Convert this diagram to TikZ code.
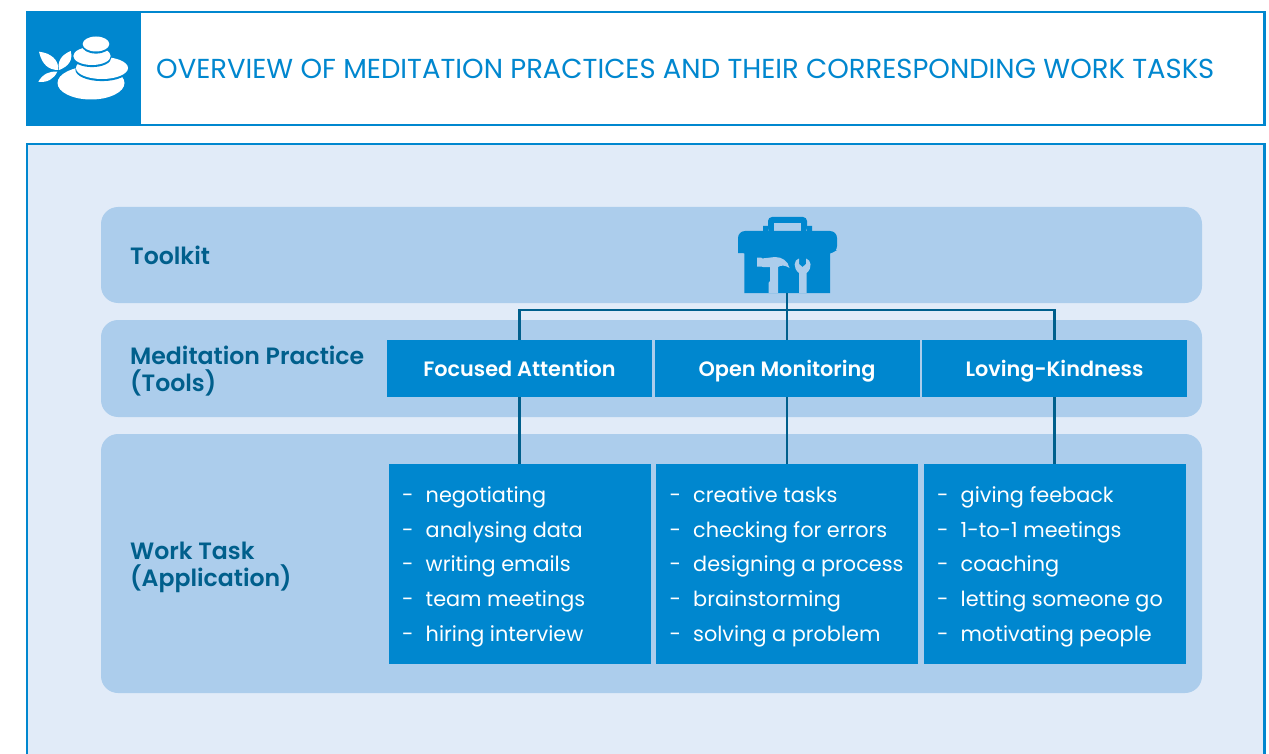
\documentclass[tikz,border=0pt]{standalone}
\usepackage{fontspec}
\setmainfont{Poppins}[BoldFont={Poppins SemiBold}]
\definecolor{mainblue}{HTML}{0087CF}
\definecolor{pale}{HTML}{E1EBF8}
\definecolor{band}{HTML}{ACCDEC}
\definecolor{dark}{HTML}{005F8C}
\tikzset{
  x=1pt,y=-1pt,
  bandbox/.style={fill=band,rounded corners=17pt},
  lab/.style={anchor=west,text=dark,font=\fontsize{23.6}{27}\selectfont\bfseries,align=left,inner sep=0pt},
  tool/.style={fill=mainblue,minimum width=265pt,minimum height=57pt,inner sep=0pt,text=white,text height=20pt,text depth=5pt,font=\fontsize{20.8}{26}\selectfont\bfseries},
  taskbox/.style={fill=mainblue,minimum width=262pt,minimum height=200pt,inner sep=0pt,text=white},
  tasktext/.style={text=white,anchor=base west,inner sep=0pt,font=\fontsize{20.8}{26}\selectfont},
  conn/.style={draw=dark,line width=2.4pt}
}
\newcommand{\stone}[4]{%
  \fill[mainblue] (#1,#2+1.8) ellipse [x radius=#3+0.6,y radius=#4+0.3];
  \fill[white] (#1,#2) ellipse [x radius=#3,y radius=#4];}
\newcommand{\tasklist}[6]{%
  \foreach \t/\yy in {#2/502,#3/537,#4/571,#5/606,#6/641}{
    \node[tasktext] at (#1+22.5,\yy) {-};
    \node[tasktext] at (#1+46,\yy) {\t};
  }}
\begin{document}
\begin{tikzpicture}
\useasboundingbox (0,0) rectangle (1269,754);
% header
\draw[mainblue,line width=2.4pt,fill=white] (27,12) rectangle (1264.5,125);
\fill[mainblue] (26,11) rectangle (141,126);
\node[anchor=base west,inner sep=0pt,text=mainblue,font=\fontsize{27.45}{30}\selectfont] (title) at (156,79) {OVERVIEW OF MEDITATION PRACTICES AND THEIR CORRESPONDING WORK TASKS};
% stones
\fill[white] (91,83) ellipse [x radius=33.5,y radius=16.5];
\stone{102}{68}{26}{11}
\stone{92}{56}{18.7}{9}
\stone{96}{44}{13.3}{7.5}
% leaves
\fill[white] (39,51.7) .. controls (51,53) and (59,60) .. (58.3,70) .. controls (49,70) and (42,65) .. (39,51.7) -- cycle;
\fill[white] (59.3,70) .. controls (57,62) and (61,55) .. (70.7,51) .. controls (73,60) and (69,66) .. (59.3,70) -- cycle;
\fill[white] (38.3,81.7) .. controls (43,74) and (49,71) .. (57.3,71.7) .. controls (54,79) and (47,83) .. (38.3,81.7) -- cycle;
% panel
\draw[mainblue,line width=2.4pt,fill=pale] (27,144) rectangle (1264.5,760);
% bands
\fill[bandbox] (101,207) rectangle (1202,303);
\fill[bandbox] (101,320) rectangle (1202,417);
\fill[bandbox] (101,434) rectangle (1202,693);
% labels
\node[lab] (l1) at (130,255.5) {Toolkit};
\node[lab] (l2) at (130,371) {Meditation Practice\\(Tools)};
\node[lab] (l3) at (130,567) {Work Task\\(Application)};
% tools
\node[tool] (fa) at (519.5,368.5) {Focused Attention};
\node[tool] (om) at (787,368.5) {Open Monitoring};
\node[tool] (lk) at (1054.5,368.5) {Loving-Kindness};
% task boxes
\node[taskbox] (t1) at (520,564) {};
\node[taskbox] (t2) at (787,564) {};
\node[taskbox] (t3) at (1055,564) {};
\tasklist{379.5}{negotiating}{analysing data}{writing emails}{team meetings}{hiring interview}
\tasklist{647}{creative tasks}{checking for errors}{designing a process}{brainstorming}{solving a problem}
\tasklist{914.5}{giving feeback}{1-to-1 meetings}{coaching}{letting someone go}{motivating people}
% toolbox icon
\node[inner sep=0pt,minimum width=99pt,minimum height=76pt] (kit) at (787.5,255) {};
\fill[mainblue,rounded corners=4pt] (768,232) -- (768,217) -- (807,217) -- (807,232) -- cycle;
\fill[band] (774,223) rectangle (801,231);
\fill[mainblue] (763,226) rectangle (768.5,232) (806.5,226) rectangle (812,232);
\fill[mainblue,rounded corners=7pt] (738,253) -- (738,231) -- (837,231) -- (837,253) [sharp corners] -- cycle;
\fill[mainblue] (738,250) -- (744.3,253.5) -- (744.3,293) -- (830,293) -- (830,253.5) -- (837,250) -- cycle;
% hammer
\fill[band] (757,257.5) -- (761,257.5) -- (762,258.5) -- (775,257) .. controls (782,257) and (788,261) .. (789.5,268) .. controls (785,265) and (781,265) .. (778,267) -- (778,293) -- (768.5,293) -- (768.5,283) -- (770,281) -- (770,267) -- (763,267) -- (761,266.5) -- (757,266.5) -- cycle;
% wrench
\fill[band] (799,258.5) -- (799,264) -- (802.5,267) -- (806,264) -- (806,258.5) .. controls (811,259.5) and (813,268) .. (806.5,273) -- (806.5,293) -- (799,293) -- (799,273) .. controls (792.5,268) and (794,259.5) .. (799,258.5) -- cycle;
% connectors
\coordinate (bus) at (787,310);
\draw[conn] (kit.south -| om.north) -- (om.north);
\draw[conn] (fa.north) |- (bus) -| (lk.north);
\draw[conn] (fa.south) -- (fa.south |- t1.north);
\draw[conn] (om.south) -- (om.south |- t2.north);
\draw[conn] (lk.south) -- (lk.south |- t3.north);
\end{tikzpicture}
\end{document}
